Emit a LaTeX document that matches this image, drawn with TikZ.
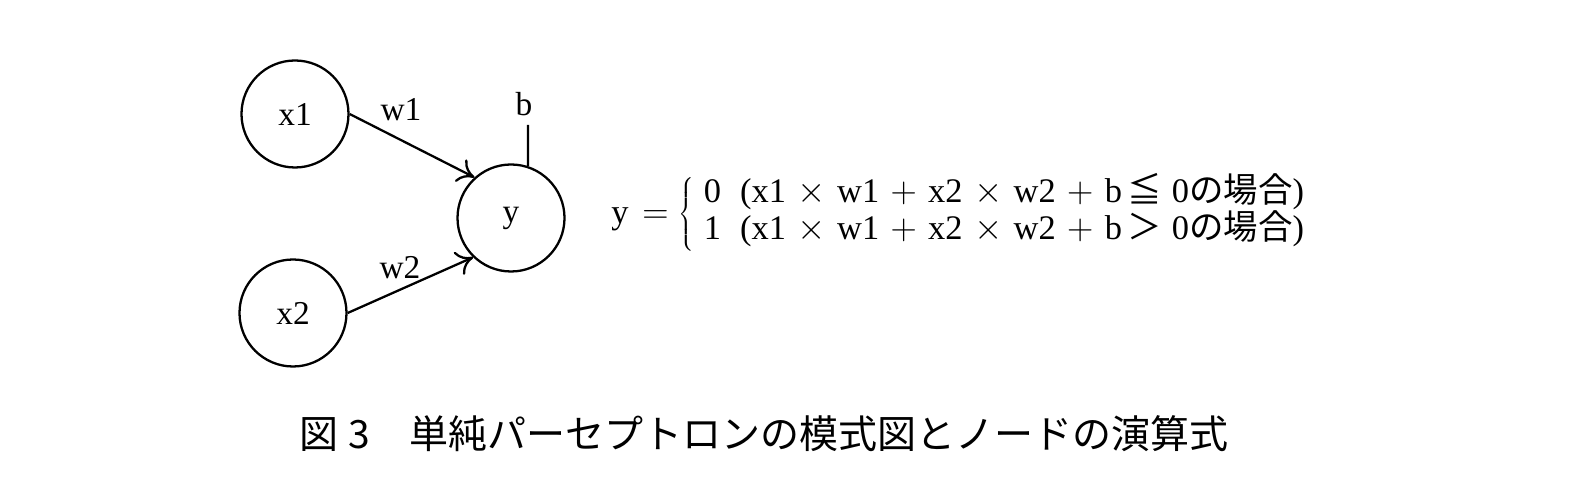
\documentclass[tikz,border=0pt]{standalone}
\usepackage{fontspec}
\setmainfont{Liberation Serif}
\newfontfamily\jpfont{Noto Sans CJK JP}
\usetikzlibrary{arrows.meta}
\newcommand\opsp{\hspace{0.33em}}
\newcommand\jp[1]{\smash{\jpfont #1}}
\tikzset{
  neuron/.style={draw, circle, line width=1.3pt, minimum size=2.14cm, inner sep=0pt, font=\fontsize{19}{21}\selectfont},
  wlabel/.style={font=\fontsize{19}{21}\selectfont, inner sep=0pt},
  conn/.style={line width=1.3pt, -{To[length=3.2mm,width=5mm,line width=1.3pt]}},
  plain/.style={line width=1.3pt}
}
\begin{document}
\begin{tikzpicture}
\useasboundingbox (0,0) rectangle (31.64,9.88);
\node[neuron] (x1) at (5.90,7.60) {x1};
\node[neuron] (x2) at (5.86,3.62) {x2};
\node[neuron] (y) at (10.22,5.52) {y};
\node[wlabel] (w1) at (8.02,7.68) {w1};
\node[wlabel] (w2) at (8.00,4.52) {w2};
\node[wlabel, anchor=south] (b) at (10.48,7.56) {b};
\coordinate (btop) at (10.56,7.38);
\draw[conn] (x1.east) -- (y.132);
\draw[conn] (x2.east) -- (y.226);
\draw[plain] (btop) -- (y.72);
\node[anchor=west, inner sep=0pt, font=\fontsize{19.6}{21}\selectfont] (eq) at (12.22,5.60)
 {y\hspace{0.4em}$=\left\{\renewcommand{\arraystretch}{1}\begin{tabular}{@{\hspace{0.28em}}l@{}}0\hspace{0.55em}(x1\opsp$\times$\opsp w1\opsp$+$\opsp x2\opsp$\times$\opsp w2\opsp$+$\opsp b\hspace{0.15em}\jp{≦}\hspace{0.3em}0\jp{の場合})\\1\hspace{0.55em}(x1\opsp$\times$\opsp w1\opsp$+$\opsp x2\opsp$\times$\opsp w2\opsp$+$\opsp b\hspace{0.15em}\jp{＞}\hspace{0.3em}0\jp{の場合})\end{tabular}\right.$};
\node[font=\jpfont\fontsize{22.2}{26}\selectfont, inner sep=0pt] (cap) at (15.28,1.20)
 {図\hspace{0.25em}3\hspace{1em}単純パーセプトロンの模式図とノードの演算式};
\end{tikzpicture}
\end{document}
